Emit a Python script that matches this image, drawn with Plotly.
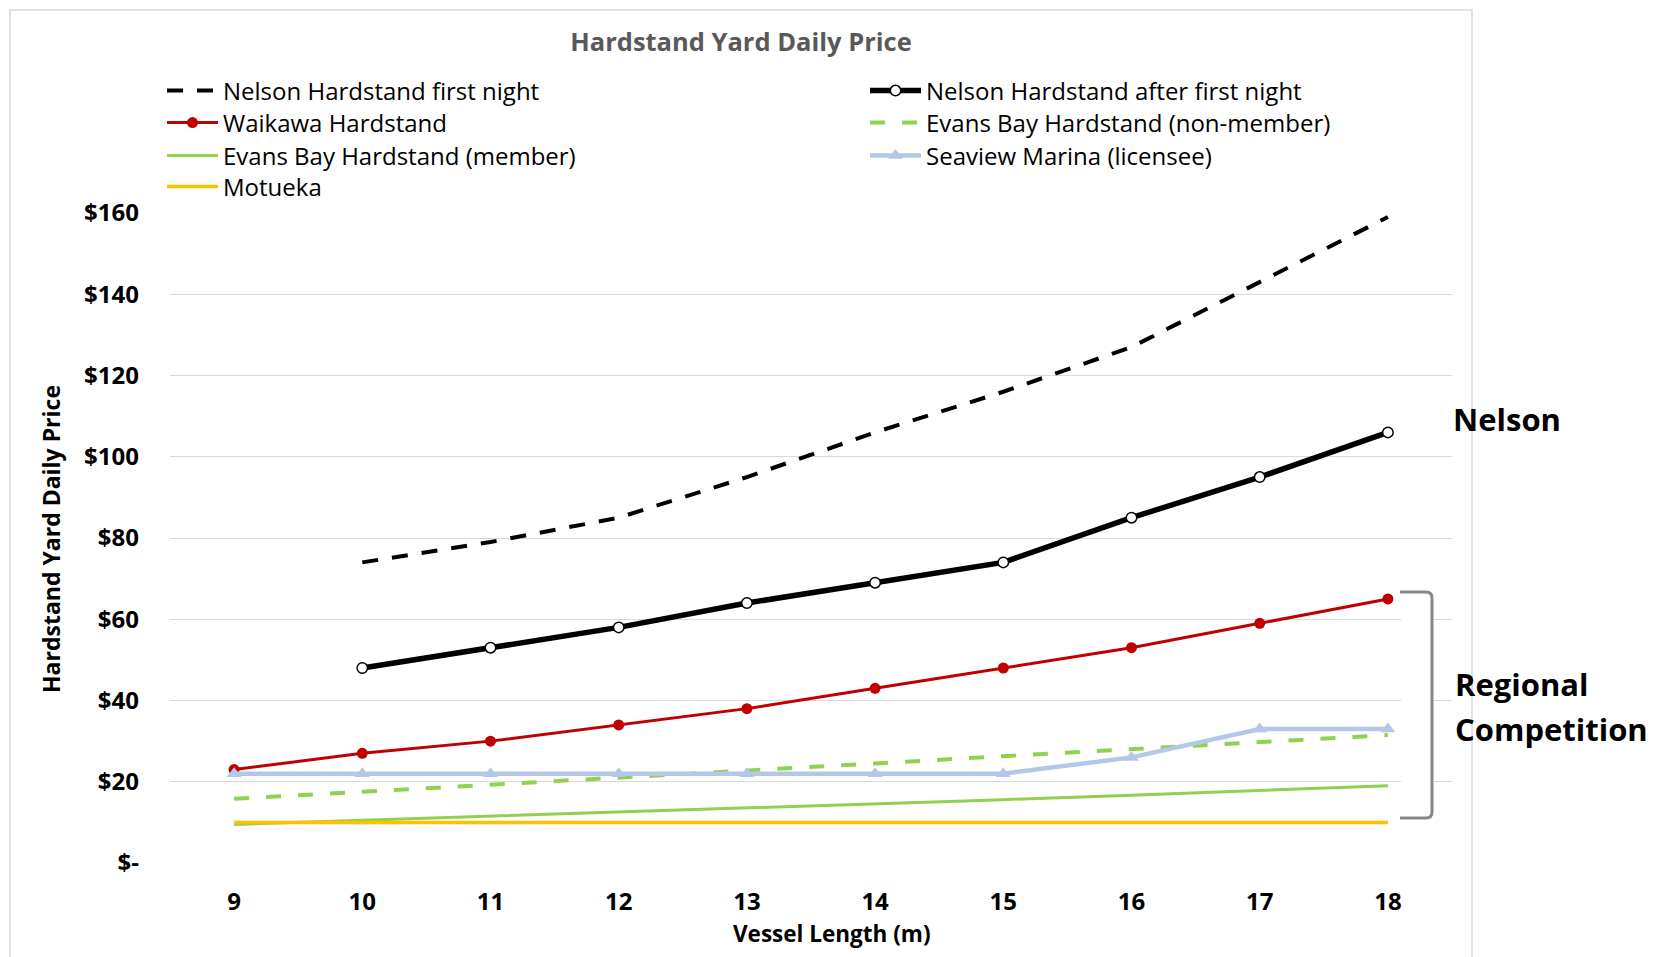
import plotly.graph_objects as go

# Vessel lengths (m) and daily hardstand prices ($)
lengths = [9, 10, 11, 12, 13, 14, 15, 16, 17, 18]
nelson_first_night = [None, 74, 79, 85, 95, 106, 116, 127, 143, 159]
nelson_after_first = [None, 48, 53, 58, 64, 69, 74, 85, 95, 106]
waikawa = [23, 27, 30, 34, 38, 43, 48, 53, 59, 65]
evans_non_member = [15.8, 17.5, 19.3, 21.0, 22.8, 24.5, 26.3, 28.0, 29.8, 31.5]
evans_member = [9.5, 10.5, 11.5, 12.5, 13.5, 14.6, 15.6, 16.7, 17.8, 19.0]
seaview = [22, 22, 22, 22, 22, 22, 22, 26, 33, 33]
motueka = [10, 10, 10, 10, 10, 10, 10, 10, 10, 10]

price_ticks = [0, 20, 40, 60, 80, 100, 120, 140, 160]
price_labels = ["$-", "$20", "$40", "$60", "$80", "$100", "$120", "$140", "$160"]

FONT = "Open Sans"
W, H = 1661, 957
PL, PR, PT, PB = 170, 1452, 213, 863   # plot area in pixels


def px(xp):
    return (xp - PL) / (PR - PL)


def py(yp):
    return (PB - yp) / (PB - PT)


fig = go.Figure()

series = [
    dict(name="Nelson Hardstand first night", y=nelson_first_night, legend="legend",
         line=dict(color="black", width=4, dash="16px,14px"), mode="lines"),
    dict(name="Nelson Hardstand after first night", y=nelson_after_first, legend="legend2",
         line=dict(color="black", width=5.5), mode="lines+markers",
         marker=dict(symbol="circle", size=10.5, color="white", line=dict(color="black", width=1.5))),
    dict(name="Waikawa Hardstand", y=waikawa, legend="legend3",
         line=dict(color="#C00000", width=3), mode="lines+markers",
         marker=dict(symbol="circle", size=11, color="#C00000")),
    dict(name="Evans Bay Hardstand (non-member)", y=evans_non_member, legend="legend4",
         line=dict(color="#92D050", width=4, dash="15px,17px"), mode="lines"),
    dict(name="Evans Bay Hardstand (member)", y=evans_member, legend="legend5",
         line=dict(color="#92D050", width=3), mode="lines"),
    dict(name="Seaview Marina (licensee)", y=seaview, legend="legend6",
         line=dict(color="#B4C7E7", width=4.5), mode="lines+markers",
         marker=dict(symbol="triangle-up", size=13, color="#B4C7E7")),
    dict(name="Motueka", y=motueka, legend="legend7",
         line=dict(color="#FFC000", width=3.5), mode="lines"),
]

for s in series:
    fig.add_trace(go.Scatter(x=lengths, showlegend=True, **s))

# legend entries laid out in two columns
left_x, right_x = 162, 865
rows = [91, 123, 156, 187]
legend_pos = {
    "legend": (left_x, rows[0]),
    "legend2": (right_x, rows[0]),
    "legend3": (left_x, rows[1]),
    "legend4": (right_x, rows[1]),
    "legend5": (left_x, rows[2]),
    "legend6": (right_x, rows[2]),
    "legend7": (left_x, rows[3]),
}
legend_layout = {}
for key, (lx, ly) in legend_pos.items():
    legend_layout[key] = dict(
        x=px(lx), y=py(ly), xanchor="left", yanchor="middle",
        font=dict(family=FONT, size=24, color="black"),
        bgcolor="rgba(0,0,0,0)", itemwidth=51, itemclick=False,
    )

shapes = [
    # outer chart frame
    dict(type="rect", xref="paper", yref="paper",
         x0=px(10), x1=px(1472), y0=py(1000), y1=py(10),
         line=dict(color="#D9D9D9", width=1.5), fillcolor="rgba(0,0,0,0)", layer="below"),
    # white backing behind the bracket
    dict(type="rect", xref="paper", yref="paper",
         x0=px(1401), x1=px(1434), y0=py(818), y1=py(592),
         line=dict(width=0), fillcolor="white", layer="above"),
    # bracket grouping the regional competitors
    dict(type="path", xref="paper", yref="paper",
         path=(f"M {px(1400)},{py(592)} L {px(1426)},{py(592)} "
               f"Q {px(1432)},{py(592)} {px(1432)},{py(598)} "
               f"L {px(1432)},{py(812)} "
               f"Q {px(1432)},{py(818)} {px(1426)},{py(818)} "
               f"L {px(1400)},{py(818)}"),
         line=dict(color="#878787", width=3), layer="above"),
]

annotations = [
    dict(text="<b>Nelson</b>", xref="paper", yref="paper", x=px(1451), y=py(419),
         xanchor="left", yanchor="middle", showarrow=False,
         font=dict(family=FONT, size=31, color="black")),
    dict(text="<b>Regional</b>", xref="paper", yref="paper", x=px(1453), y=py(684),
         xanchor="left", yanchor="middle", showarrow=False,
         font=dict(family=FONT, size=31, color="black")),
    dict(text="<b>Competition</b>", xref="paper", yref="paper", x=px(1453), y=py(729),
         xanchor="left", yanchor="middle", showarrow=False,
         font=dict(family=FONT, size=31, color="black")),
    dict(text="<b>Vessel Length (m)</b>", xref="paper", yref="paper", x=px(832), y=py(933),
         xanchor="center", yanchor="middle", showarrow=False,
         font=dict(family=FONT, size=22.5, color="black")),
    dict(text="<b>Hardstand Yard Daily Price</b>", xref="paper", yref="paper", x=px(51), y=py(539),
         xanchor="center", yanchor="middle", showarrow=False, textangle=-90,
         font=dict(family=FONT, size=23, color="black")),
]

tick_font = dict(family=FONT, size=24, color="black", weight="bold")

fig.update_layout(
    width=W, height=H,
    margin=dict(l=PL, r=W - PR, t=PT, b=H - PB, pad=0),
    paper_bgcolor="white", plot_bgcolor="white",
    title=dict(text="<b>Hardstand Yard Daily Price</b>", xref="container", yref="container",
               x=741 / W, y=1 - 42 / H, xanchor="center", yanchor="middle",
               font=dict(family=FONT, size=25.5, color="#595959")),
    xaxis=dict(range=[8.5, 18.5], tickvals=lengths, ticktext=[str(v) for v in lengths],
               showgrid=False, zeroline=False, showline=False, ticks="",
               ticklabelstandoff=22, tickfont=tick_font),
    yaxis=dict(range=[0, 160], tickvals=price_ticks, ticktext=price_labels,
               showgrid=True, gridcolor="#D9D9D9", gridwidth=1.3, zeroline=False,
               showline=False, ticks="", ticklabelstandoff=30, tickfont=tick_font),
    shapes=shapes,
    annotations=annotations,
    **legend_layout,
)

fig.write_html("out.html")
